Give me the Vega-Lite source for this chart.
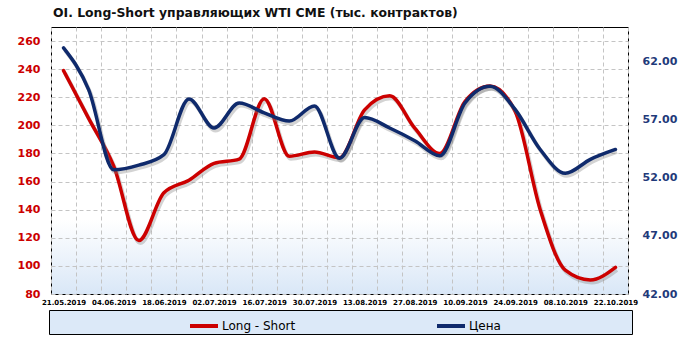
{
  "$schema": "https://vega.github.io/schema/vega-lite/v6.json",
  "autosize": {"type": "none"},
  "width": 577,
  "height": 267,
  "padding": {"left": 51, "top": 27, "right": 52, "bottom": 46},
  "background": "#ffffff",
  "config": {
    "font": "DejaVu Sans",
    "view": {
      "stroke": "#000000",
      "strokeWidth": 1,
      "fill": {"gradient": "linear", "x1": 0, "y1": 0, "x2": 0, "y2": 1,
        "stops": [{"offset": 0, "color": "#ffffff"}, {"offset": 0.72, "color": "#ffffff"}, {"offset": 1, "color": "#d9e7f7"}]}
    }
  },
  "title": {
    "text": "OI. Long-Short управляющих WTI CME (тыс. контрактов)",
    "anchor": "start",
    "frame": "group",
    "fontSize": 12.4,
    "fontWeight": "bold",
    "color": "#111111",
    "offset": 8,
    "dx": 2
  },
  "data": {
    "values": [
      {"date": "21.05.2019", "ls": 239, "price": 63.2},
      {"date": "28.05.2019", "ls": 205, "price": 59.6},
      {"date": "04.06.2019", "ls": 171, "price": 52.7},
      {"date": "11.06.2019", "ls": 118, "price": 53.1},
      {"date": "18.06.2019", "ls": 152, "price": 54.0},
      {"date": "25.06.2019", "ls": 161, "price": 58.8},
      {"date": "02.07.2019", "ls": 173, "price": 56.3},
      {"date": "09.07.2019", "ls": 176, "price": 58.45},
      {"date": "16.07.2019", "ls": 219, "price": 57.6},
      {"date": "23.07.2019", "ls": 178, "price": 56.9},
      {"date": "30.07.2019", "ls": 181, "price": 58.2},
      {"date": "06.08.2019", "ls": 177, "price": 53.7},
      {"date": "13.08.2019", "ls": 211, "price": 57.2},
      {"date": "20.08.2019", "ls": 221, "price": 56.3},
      {"date": "27.08.2019", "ls": 198, "price": 55.2},
      {"date": "03.09.2019", "ls": 180, "price": 53.9},
      {"date": "10.09.2019", "ls": 217, "price": 58.45},
      {"date": "17.09.2019", "ls": 228, "price": 59.9},
      {"date": "24.09.2019", "ls": 210, "price": 57.9},
      {"date": "01.10.2019", "ls": 140, "price": 54.45},
      {"date": "08.10.2019", "ls": 97, "price": 52.4},
      {"date": "15.10.2019", "ls": 90, "price": 53.6},
      {"date": "22.10.2019", "ls": 99, "price": 54.45}
    ]
  },
  "encoding": {
    "x": {
      "field": "date",
      "type": "ordinal",
      "sort": null,
      "bandPosition": 0.5,
      "scale": {"type": "band", "paddingInner": 0, "paddingOuter": 0},
      "axis": {
        "title": null,
        "labelAngle": 0,
        "labelFontSize": 7,
        "labelFontWeight": "bold",
        "labelColor": "#000000",
        "labelPadding": 4,
        "ticks": false,
        "domain": false,
        "tickBand": "extent",
        "grid": true,
        "gridColor": "#c4c4c4",
        "gridDash": [4, 3],
        "gridWidth": 1,
        "labelExpr": "indexof(['21.05.2019','04.06.2019','18.06.2019','02.07.2019','16.07.2019','30.07.2019','13.08.2019','27.08.2019','10.09.2019','24.09.2019','08.10.2019','22.10.2019'], datum.value) >= 0 ? datum.label : ''"
      }
    }
  },
  "layer": [
    {
      "encoding": {
        "y": {
          "field": "ls",
          "type": "quantitative",
          "scale": {"domain": [80, 270], "nice": false, "zero": false},
          "axis": {
            "title": null,
            "values": [80, 100, 120, 140, 160, 180, 200, 220, 240, 260],
            "labelFontSize": 11,
            "labelFontWeight": "bold",
            "labelColor": "#cc0000",
            "labelPadding": 11,
            "ticks": false,
            "domain": false,
            "grid": true,
            "gridColor": "#c4c4c4",
            "gridDash": [4, 3],
            "gridWidth": 1
          }
        }
      },
      "layer": [
        {
          "mark": {"type": "line", "interpolate": "monotone", "color": "#808080", "opacity": 0.35, "strokeWidth": 4, "xOffset": 1.5, "yOffset": 2.5}
        },
        {
          "mark": {"type": "line", "interpolate": "monotone", "strokeWidth": 3.5, "strokeCap": "round"},
          "encoding": {
            "color": {
              "datum": "Long - Short",
              "type": "nominal",
              "scale": {"domain": ["Long - Short", "Цена"], "range": ["#cc0000", "#0f2a6c"]},
              "legend": {
                "orient": "none",
                "legendX": -2,
                "legendY": 283,
                "direction": "horizontal",
                "fillColor": "#dce9f8",
                "strokeColor": "#000000",
                "padding": 0,
                "symbolType": "stroke",
                "symbolSize": 784,
                "symbolStrokeWidth": 4,
                "symbolOffset": 139,
                "labelOffset": 2,
                "labelFontSize": 12,
                "labelColor": "#000000",
                "columnPadding": -1,
                "title": ".",
                "titleOrient": "right",
                "titleOpacity": 0,
                "titleFontSize": 6,
                "titlePadding": 128
              }
            }
          }
        }
      ]
    },
    {
      "encoding": {
        "y": {
          "field": "price",
          "type": "quantitative",
          "scale": {"domain": [42, 65], "nice": false, "zero": false},
          "axis": {
            "title": null,
            "orient": "right",
            "values": [42, 47, 52, 57, 62],
            "format": ".2f",
            "labelFontSize": 11,
            "labelFontWeight": "bold",
            "labelColor": "#1f3a7a",
            "labelPadding": 14,
            "ticks": false,
            "domain": false,
            "grid": false
          }
        }
      },
      "layer": [
        {
          "mark": {"type": "line", "interpolate": "monotone", "color": "#808080", "opacity": 0.35, "strokeWidth": 4, "xOffset": 1.5, "yOffset": 2.5}
        },
        {
          "mark": {"type": "line", "interpolate": "monotone", "strokeWidth": 3.5, "strokeCap": "round"},
          "encoding": {
            "color": {"datum": "Цена", "type": "nominal"}
          }
        }
      ]
    }
  ],
  "resolve": {"scale": {"y": "independent"}}
}
